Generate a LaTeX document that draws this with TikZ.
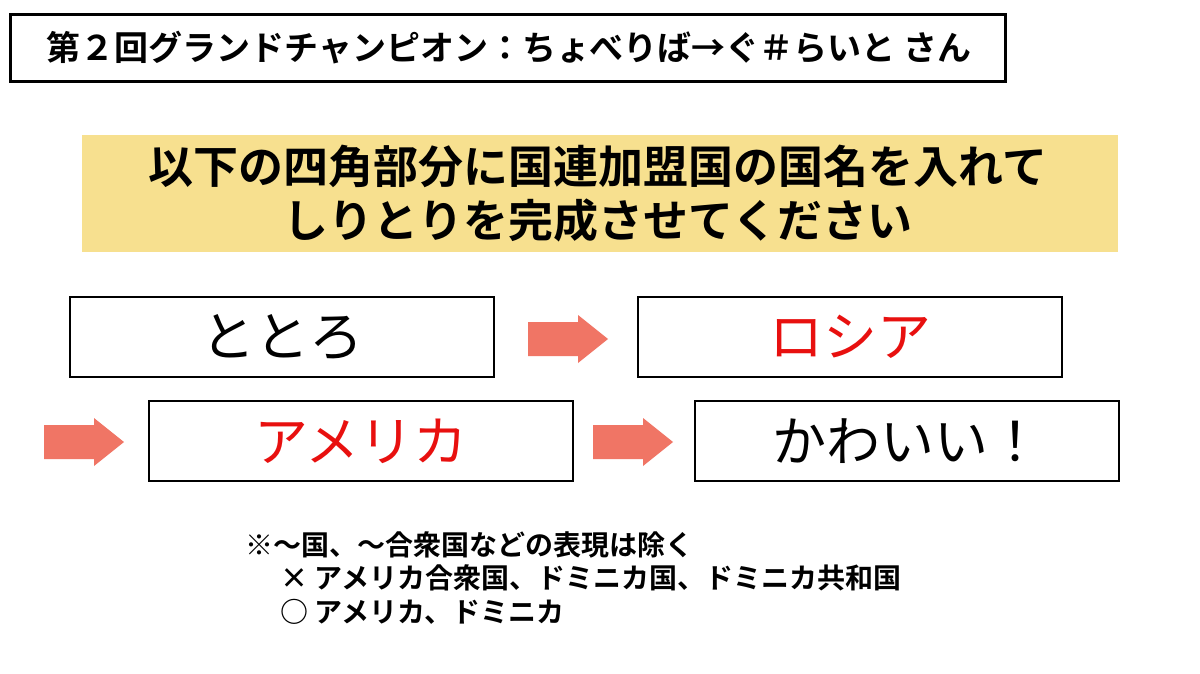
\documentclass[tikz,border=0pt]{standalone}
\usepackage{fontspec}
\setmainfont{Noto Sans CJK JP}
\newfontfamily\jpb{Noto Sans CJK JP Bold}
\definecolor{band}{HTML}{F7E08F}
\definecolor{arr}{HTML}{F07565}
\definecolor{redtxt}{HTML}{E8100F}
\tikzset{
  wbox/.style={draw=black,line width=2pt,fill=white,minimum width=424pt,minimum height=80pt,inner sep=0pt,font=\fontsize{54}{58}\selectfont},
  arrw/.style={fill=arr,draw=none},
  note/.style={anchor=west,font=\jpb\fontsize{28}{32}\selectfont,inner sep=0pt}
}
\newcommand{\fatarrow}[1]{\fill[arrw,shift={(#1)}] (-40,-17) -- (10,-17) -- (10,-24) -- (40,0) -- (10,24) -- (10,17) -- (-40,17) -- cycle;}
\begin{document}
\begin{tikzpicture}[x=1pt,y=-1pt]
\useasboundingbox (0,0) rectangle (1200,674);
\fill[white] (0,0) rectangle (1200,674);
\draw[line width=3pt] (10,15) rectangle (1005,82);
\node[font=\jpb\fontsize{34}{36}\selectfont] (title) at (509,48) {第２回グランドチャンピオン：ちょべりば→ぐ＃らいと さん};
\fill[band] (82,135) rectangle (1118,252);
\node[font=\jpb\fontsize{45}{54}\selectfont,align=center] (q) at (598,194) {以下の四角部分に国連加盟国の国名を入れて\\しりとりを完成させてください};
\node[wbox] (b1) at (282,337) {ととろ};
\node[wbox,text=redtxt] (b2) at (850,337) {ロシア};
\node[wbox,text=redtxt] (b3) at (361,441) {アメリカ};
\node[wbox] (b4) at (907,441) {かわいい！};
\coordinate (a1) at (568,339);
\coordinate (a2) at (84,442);
\coordinate (a3) at (633,442);
\fatarrow{a1}
\fatarrow{a2}
\fatarrow{a3}
\node[note] (n1) at (245,545) {※〜国、〜合衆国などの表現は除く};
\node[note] (n2) at (280,578) {× アメリカ合衆国、ドミニカ国、ドミニカ共和国};
\node[note] (n3) at (280,612) {○ アメリカ、ドミニカ};
\end{tikzpicture}
\end{document}
